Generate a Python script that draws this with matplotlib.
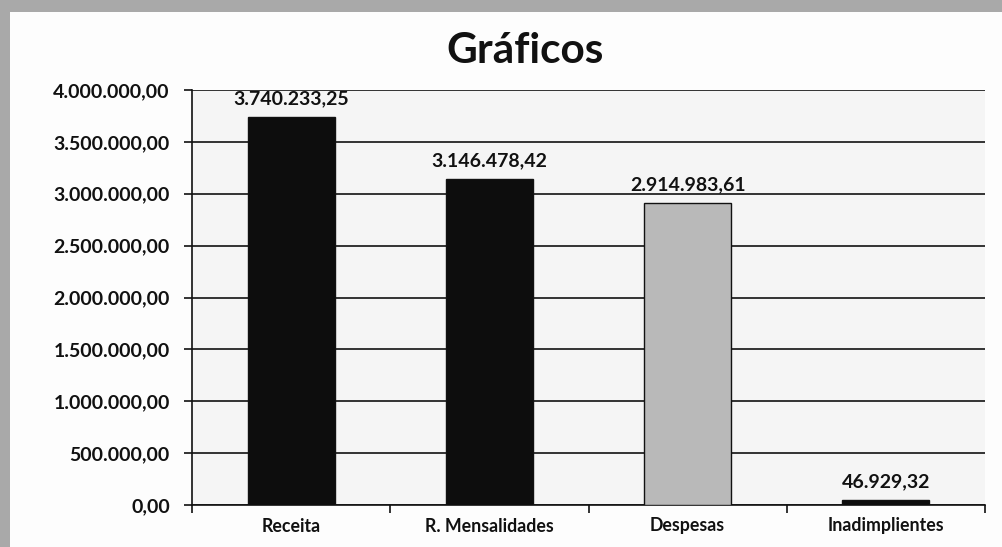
import matplotlib
matplotlib.use("Agg")
import matplotlib.pyplot as plt
from matplotlib.patches import Rectangle
from matplotlib.ticker import FixedLocator, FuncFormatter

categories = ["Receita", "R. Mensalidades", "Despesas", "Inadimplientes"]
values = [3740233.25, 3146478.42, 2914983.61, 46929.32]
bar_colors = ["#0d0d0d", "#0d0d0d", "#b9b9b9", "#0d0d0d"]
yticks = [0, 500000, 1000000, 1500000, 2000000, 2500000, 3000000, 3500000, 4000000]
title = "Gráficos"


def br(v):
    s = f"{v:,.2f}"
    return s.replace(",", "X").replace(".", ",").replace("X", ".")


plt.rcParams['font.family'] = ['Lato', 'DejaVu Sans']

fig = plt.figure(figsize=(10.02, 5.47), dpi=100)
fig.patch.set_facecolor("#a9a9a9")
bg = fig.add_axes([0, 0, 1, 1], zorder=-10)
bg.set_xlim(0, 1)
bg.set_ylim(0, 1)
bg.axis("off")
bg.add_patch(Rectangle((10 / 1002, 0), 1 - 10 / 1002, 1 - 12 / 547,
                       facecolor="#fdfdfd", edgecolor="none"))

ax = fig.add_axes([192 / 1002, 1 - 505 / 547, (985 - 192) / 1002, (505 - 90) / 547])
ax.set_facecolor("#f5f5f5")

x = list(range(len(categories)))
bars = ax.bar(x, values, width=0.44, color=bar_colors, edgecolor="#111111",
              linewidth=1.0, zorder=3)
for xi, v in zip(x, values):
    ax.annotate(br(v), (xi, v), xytext=(0, 7), textcoords="offset points",
                ha="center", va="bottom", fontsize=14, fontweight="bold",
                color="#111111", zorder=4)

ax.set_xlim(-0.5, len(categories) - 0.5)
ax.set_ylim(0, 4000000)
ax.set_yticks(yticks)
ax.yaxis.set_major_formatter(FuncFormatter(lambda v, p: br(v)))
ax.set_xticks(x)
ax.set_xticklabels(categories)
ax.xaxis.set_minor_locator(FixedLocator([i - 0.5 for i in range(len(categories) + 1)]))
ax.tick_params(axis="x", which="major", length=0, pad=9, labelsize=12.8)
ax.tick_params(axis="x", which="minor", length=6, width=1.2, color="#111111")
ax.tick_params(axis="y", length=6, width=1.2, color="#111111", labelsize=14, pad=10)
for lab in ax.get_xticklabels() + ax.get_yticklabels():
    lab.set_fontweight("bold")
    lab.set_color("#111111")

ax.yaxis.grid(True, color="#111111", linewidth=1.2, zorder=1)
ax.set_axisbelow(True)
for s in ["top", "right"]:
    ax.spines[s].set_visible(False)
for s in ["left", "bottom"]:
    ax.spines[s].set_color("#111111")
    ax.spines[s].set_linewidth(1.2)

fig.text(525 / 1002, 1 - 51 / 547, title, ha="center", va="center",
         fontsize=30.5, fontweight="bold", color="#111111")

fig.savefig("out.png", dpi=100, facecolor=fig.get_facecolor())
